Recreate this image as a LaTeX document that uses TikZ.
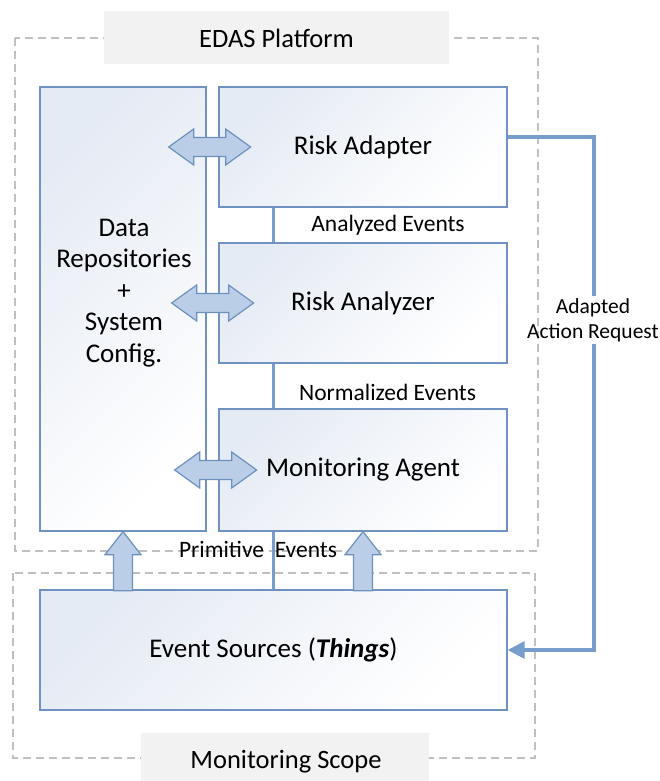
\documentclass[tikz,border=0pt]{standalone}
\usepackage{fontspec}
\setmainfont{Carlito}
\usetikzlibrary{calc,arrows.meta}
\definecolor{boxline}{RGB}{112,146,192}
\definecolor{boxtop}{RGB}{229,235,244}
\definecolor{connblue}{RGB}{118,157,205}
\definecolor{arrfill}{RGB}{186,206,232}
\definecolor{arrline}{RGB}{110,144,190}
\definecolor{dashgray}{RGB}{192,192,192}
\definecolor{lblfill}{RGB}{242,242,242}
\begin{document}
\begin{tikzpicture}[x=1pt,y=-1pt,
  box/.style={draw=boxline, line width=1.3pt, top color=boxtop, bottom color=white,
    shading angle=45, inner sep=0pt, font=\fontsize{27}{32}\selectfont},
  frame/.style={draw=dashgray, line width=1.5pt, dash pattern=on 8pt off 5pt},
  tagbox/.style={fill=lblfill, inner sep=0pt},
  conn/.style={draw=connblue, line width=3pt},
  lbl/.style={inner sep=0pt, font=\fontsize{23.5}{28}\selectfont},
  blockarrow/.style={draw=arrline, fill=arrfill, line width=1.2pt, line join=miter},
  dblarr/.pic={\draw[blockarrow] (0,0) -- (25,-18) -- (25,-9.5) -- (57,-9.5) -- (57,-18)
     -- (82,0) -- (57,18) -- (57,9.5) -- (25,9.5) -- (25,18) -- cycle;},
  uparr/.pic={\draw[blockarrow] (0,0) -- (18,23) -- (9.5,23) -- (9.5,59) -- (-9.5,59)
     -- (-9.5,23) -- (-18,23) -- cycle;}
]
\useasboundingbox (0,0) rectangle (660,781);
\fill[white] (0,0) rectangle (660,781);

% dashed frames
\draw[frame] (15,38) rectangle (538,551);
\draw[frame] (13,573) rectangle (535,758);

% frame titles
\node[tagbox, minimum width=345pt, minimum height=53pt] (edas) at (276.5,37.5) {};
\node[font=\fontsize{26.5}{31}\selectfont] (edast) at (276.5,38) {EDAS Platform};
\node[tagbox, minimum width=288pt, minimum height=48pt] (scope) at (285,757) {};
\node[font=\fontsize{26.5}{31}\selectfont] (scopet) at (286,762) {Monitoring Scope};

% boxes
\node[box, minimum width=166pt, minimum height=444pt] (data) at (123,309) {};
\node[align=center, font=\fontsize{27}{31.5}\selectfont] (datat) at (124,293)
  {Data\\Repositories\\+\\System\\Config.};
\node[box, minimum width=288pt, minimum height=120pt] (ra) at (363,147) {Risk Adapter};
\node[box, minimum width=288pt, minimum height=120pt] (rn) at (363,303) {Risk Analyzer};
\node[box, minimum width=288pt, minimum height=122pt] (ma) at (363,470) {Monitoring Agent};
\node[box, minimum width=467pt, minimum height=120pt] (es) at (273.5,650)
  {Event Sources (\textbf{\textit{Things}})};

% vertical event connectors
\draw[conn] (es.north |- ra.south) -- (es.north |- rn.north);
\draw[conn] (es.north |- rn.south) -- (es.north |- ma.north);
\draw[conn] (es.north |- ma.south) -- (es.north);

% connector labels
\node[lbl] (ae) at (388,225) {Analyzed Events};
\node[lbl] (ne) at (387.5,392) {Normalized Events};
\node[lbl] (pe) at (258,549) {Primitive\ \ Events};

% adapted action request loop
\node[align=center, inner sep=2pt, font=\fontsize{21.5}{25}\selectfont] (aar) at (593,320)
  {Adapted\\Action Request};
\draw[conn, line width=3.2pt] ([yshift=10pt]ra.east) -| ([xshift=1pt]aar.north);
\draw[conn, line width=3.2pt, -{Triangle[length=17pt,width=17pt]}] ([xshift=1pt]aar.south) |- (es.east);

% double block arrows
\pic at ($(data.east |- ra.center)+(-38,0)$) {dblarr};
\pic at ($(data.east |- rn.center)+(-35,0)$) {dblarr};
\pic at ($(data.east |- ma.center)+(-32,0)$) {dblarr};

% upward block arrows
\pic at (data.south) {uparr};
\pic at (ma.south) {uparr};
\end{tikzpicture}
\end{document}
